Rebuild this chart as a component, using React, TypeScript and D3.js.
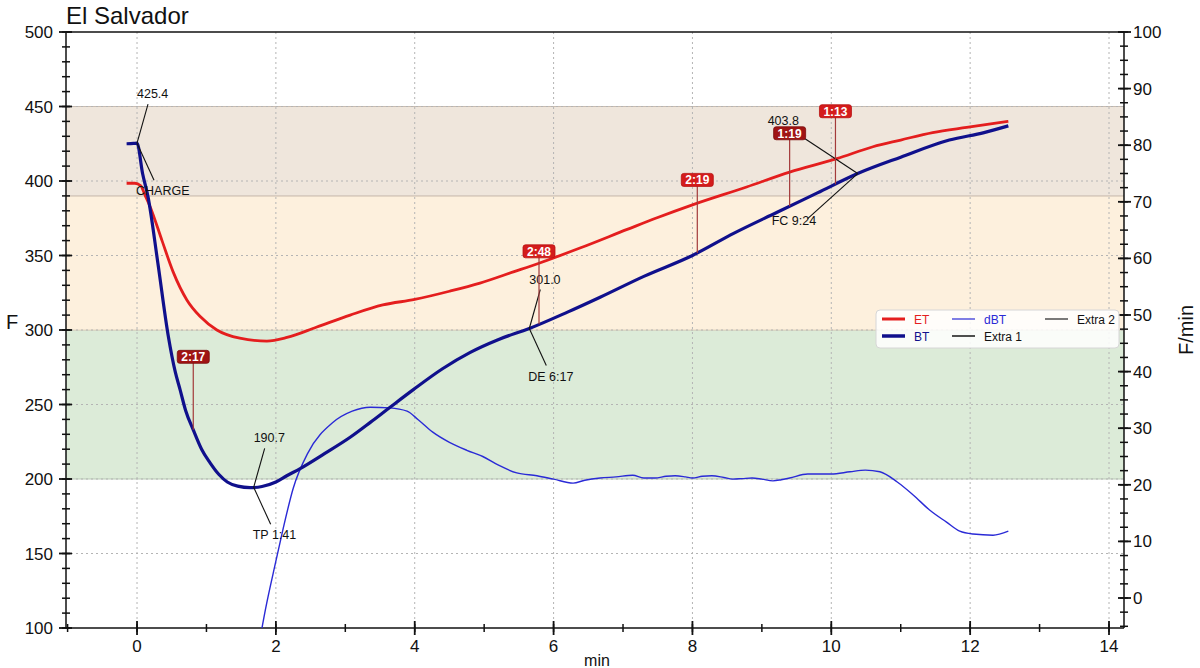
import React from "react";
import * as d3 from "d3";

const TITLE = "El Salvador";

const BT_T = [-0.15, -0.05, 0.0, 0.08, 0.16, 0.3, 0.45, 0.55, 0.62, 0.7, 0.81, 0.93, 1.05, 1.18, 1.3, 1.45, 1.63, 1.8, 2.0, 2.15, 2.35, 2.7, 3.07, 3.36, 3.64, 3.98, 4.4, 4.8, 5.2, 5.65, 6.2, 6.67, 7.3, 8.0, 8.6, 9.22, 9.8, 10.38, 11.0, 11.7, 12.2, 12.55];
const BT_V = [425, 425.2, 425.4, 405, 389, 345, 296, 272, 260, 246, 233, 220, 211, 203, 198, 195.2, 194.2, 195, 198, 202, 207, 217, 228, 238, 248, 260, 274, 285, 293.5, 301, 312, 322, 336, 350, 365, 379, 392, 405, 416, 427.5, 432.5, 437];

const ET_T = [-0.15, -0.03, 0.05, 0.12, 0.19, 0.36, 0.52, 0.72, 0.91, 1.15, 1.48, 1.87, 2.16, 2.59, 3.07, 3.54, 4.0, 4.5, 4.94, 5.42, 5.8, 6.38, 7.06, 7.5, 8.0, 8.78, 9.4, 10.08, 10.6, 11.0, 11.46, 11.95, 12.55];
const ET_V = [398.5, 398.5, 397, 390, 382.6, 360, 339, 320, 309, 300, 294.5, 292.6, 295, 302, 310, 316.8, 320.5, 326, 331.5, 339, 345, 355, 367.5, 375.5, 384, 396, 406, 415, 423, 427.5, 432.5, 436, 440];

const DBT_T = [1.76, 1.85, 2.0, 2.1, 2.25, 2.46, 2.82, 3.1, 3.36, 3.64, 3.89, 4.05, 4.26, 4.5, 4.75, 4.98, 5.2, 5.47, 5.76, 6.0, 6.28, 6.45, 6.67, 6.9, 7.14, 7.3, 7.46, 7.62, 7.75, 7.9, 8.0, 8.14, 8.28, 8.45, 8.58, 8.72, 8.86, 9.0, 9.16, 9.28, 9.4, 9.66, 10.0, 10.27, 10.49, 10.7, 10.95, 11.18, 11.42, 11.66, 11.85, 12.04, 12.33, 12.55];
const DBT_V = [-8, -2, 6.5, 12, 19.4, 25.6, 31, 33, 33.7, 33.6, 33, 31.5, 29.3, 27.5, 26.1, 25, 23.5, 22.1, 21.6, 21.0, 20.3, 20.8, 21.2, 21.4, 21.7, 21.2, 21.2, 21.5, 21.6, 21.4, 21.2, 21.5, 21.6, 21.3, 21.0, 21.1, 21.2, 21.0, 20.7, 20.9, 21.2, 21.9, 21.9, 22.3, 22.6, 22.3, 20.5, 18.2, 15.5, 13.4, 11.8, 11.3, 11.1, 11.8];

const X_TICKS = [0, 2, 4, 6, 8, 10, 12, 14];
const Y_TICKS = [100, 150, 200, 250, 300, 350, 400, 450, 500];
const YR_TICKS = [0, 10, 20, 30, 40, 50, 60, 70, 80, 90, 100];

const BAND_LOW = [200, 300, 390];
const BAND_HIGH = [300, 390, 450];

const EVENT_LABELS = ["CHARGE", "TP 1:41", "DE 6:17", "FC 9:24"];
const EVENT_TIMES = [0, 1.68, 5.65, 10.38];
const EVENT_VALUES = ["425.4", "190.7", "301.0", "403.8"];

const PHASE_LABELS = ["2:17", "2:48", "2:19", "1:19", "1:13"];
const PHASE_TIMES = [0.81, 5.79, 8.07, 9.4, 10.06];
const PHASE_SERIES = ["BT", "ET", "ET", "BT", "ET"];

const LEGEND_LABELS = ["ET", "BT", "dBT", "Extra 1", "Extra 2"];

const W = 1200;
const H = 668;
const L = 66;
const R = 1124;
const T = 32;
const B = 628;
const FONT = "'Liberation Sans', Arial, Helvetica, sans-serif";

const C_ET = "#e41e1e";
const C_BT = "#10108c";
const C_DBT = "#2a2ad6";
const BAND_FILL = ["#dcebd8", "#fdf0dd", "#efe6dc"];
const BAND_EDGE = ["#b9c9b5", "#e3d4bf", "#c9bcb0"];

function interp(ts: number[], vs: number[], t: number) {
  const i = d3.bisectLeft(ts, t);
  if (i <= 0) return vs[0];
  if (i >= ts.length) return vs[vs.length - 1];
  const f = (t - ts[i - 1]) / (ts[i] - ts[i - 1]);
  return vs[i - 1] + f * (vs[i] - vs[i - 1]);
}

export default function App() {
  const x = d3.scaleLinear().domain([-1.023, 14.216]).range([L, R]);
  const y = d3.scaleLinear().domain([100, 500]).range([B, T]);
  const yr = d3.scaleLinear().domain([-5.3, 100]).range([B, T]);

  const btPath = d3
    .line<number>()
    .x((_, i) => x(BT_T[i]))
    .y((d) => y(d))
    .curve(d3.curveMonotoneX)(BT_V);
  const etPath = d3
    .line<number>()
    .x((_, i) => x(ET_T[i]))
    .y((d) => y(d))
    .curve(d3.curveMonotoneX)(ET_V);
  const dbtPath = d3
    .line<number>()
    .x((_, i) => x(DBT_T[i]))
    .y((d) => yr(d))
    .curve(d3.curveMonotoneX)(DBT_V);

  const xMinor = d3.range(-1, 15, 1);
  const yMinor = d3.range(100, 501, 10);
  const yrMinor = d3.range(-5, 100.1, 2.5);
  const gridY = d3.range(150, 500, 50);

  const legendX = [882, 882, 952, 952, 1045];
  const legendY = [319, 336, 319, 336, 319];
  const legendColor = [C_ET, C_BT, C_DBT, "#222", "#222"];
  const legendWidth = [3, 3.5, 1.2, 1.6, 1.2];
  const legendTextColor = [C_ET, C_BT, C_DBT, "#111", "#111"];

  return (
    <svg
      width={W}
      height={H}
      viewBox={`0 0 ${W} ${H}`}
      style={{ position: "absolute", left: 0, top: 0, display: "block", background: "#fff" }}
      fontFamily={FONT}
    >
      <defs>
        <clipPath id="plotclip">
          <rect x={L} y={T} width={R - L} height={B - T} />
        </clipPath>
      </defs>

      {/* bands */}
      {BAND_LOW.map((lo, i) => (
        <g key={`band${i}`}>
          <rect x={L} y={y(BAND_HIGH[i])} width={R - L} height={y(lo) - y(BAND_HIGH[i])} fill={BAND_FILL[i]} />
          <line x1={L} x2={R} y1={y(BAND_HIGH[i])} y2={y(BAND_HIGH[i])} stroke={BAND_EDGE[i]} strokeWidth={1} />
          <line x1={L} x2={R} y1={y(lo)} y2={y(lo)} stroke={BAND_EDGE[i]} strokeWidth={1} />
        </g>
      ))}

      {/* grid */}
      {X_TICKS.map((t) => (
        <line key={`gx${t}`} x1={x(t)} x2={x(t)} y1={T} y2={B} stroke="#b4b4b4" strokeWidth={1} strokeDasharray="2,3" />
      ))}
      {gridY.map((v) => (
        <line key={`gy${v}`} x1={L} x2={R} y1={y(v)} y2={y(v)} stroke="#b4b4b4" strokeWidth={1} strokeDasharray="2,3" />
      ))}

      {/* title */}
      <text x={L} y={24} fontSize={24} fill="#111">
        {TITLE}
      </text>

      {/* frame */}
      <line x1={L} x2={R} y1={T} y2={T} stroke="#111" strokeWidth={1.5} />
      <line x1={L} x2={R} y1={B} y2={B} stroke="#111" strokeWidth={1.5} />
      <line x1={L} x2={L} y1={T} y2={B} stroke="#111" strokeWidth={1.5} />
      <line x1={R} x2={R} y1={T} y2={B} stroke="#111" strokeWidth={1.5} />

      {/* left axis */}
      {yMinor.map((v) => (
        <line key={`ylm${v}`} x1={L - 4} x2={L + 4} y1={y(v)} y2={y(v)} stroke="#111" strokeWidth={1.5} />
      ))}
      {Y_TICKS.map((v) => (
        <g key={`yl${v}`}>
          <line x1={L - 7} x2={L + 6} y1={y(v)} y2={y(v)} stroke="#111" strokeWidth={1.8} />
          <text x={L - 13} y={y(v) + 6} fontSize={17} textAnchor="end" fill="#111">
            {v}
          </text>
        </g>
      ))}
      <text x={12} y={329} fontSize={20} textAnchor="middle" fill="#111">
        F
      </text>

      {/* right axis */}
      {yrMinor.map((v) => (
        <line key={`yrm${v}`} x1={R - 4} x2={R + 4} y1={yr(v)} y2={yr(v)} stroke="#111" strokeWidth={1.5} />
      ))}
      {YR_TICKS.map((v) => (
        <g key={`yr${v}`}>
          <line x1={R - 6} x2={R + 7} y1={yr(v)} y2={yr(v)} stroke="#111" strokeWidth={1.8} />
          <text x={R + 9} y={yr(v) + 6} fontSize={17} textAnchor="start" fill="#111">
            {v}
          </text>
        </g>
      ))}
      <text
        x={1186}
        y={330}
        fontSize={20}
        textAnchor="middle"
        fill="#111"
        transform={`rotate(-90 1186 330) translate(0 7)`}
      >
        F/min
      </text>

      {/* bottom axis */}
      {xMinor.map((t) => (
        <line key={`xm${t}`} x1={x(t)} x2={x(t)} y1={B - 4} y2={B + 4} stroke="#111" strokeWidth={1.5} />
      ))}
      {X_TICKS.map((t) => (
        <g key={`xt${t}`}>
          <line x1={x(t)} x2={x(t)} y1={B - 7} y2={B + 7} stroke="#111" strokeWidth={1.8} />
          <text x={x(t)} y={B + 24} fontSize={17} textAnchor="middle" fill="#111">
            {t}
          </text>
        </g>
      ))}
      <text x={597} y={666} fontSize={16} textAnchor="middle" fill="#111">
        min
      </text>

      {/* curves */}
      <g clipPath="url(#plotclip)">
        <path d={dbtPath || ""} fill="none" stroke={C_DBT} strokeWidth={1.4} strokeLinejoin="round" />
        <path d={etPath || ""} fill="none" stroke={C_ET} strokeWidth={2.8} strokeLinejoin="round" />
        <path d={btPath || ""} fill="none" stroke={C_BT} strokeWidth={3.2} strokeLinejoin="round" />
      </g>

      {/* event annotations */}
      {EVENT_LABELS.map((lab, i) => {
        const px = x(EVENT_TIMES[i]);
        const py = y(interp(BT_T, BT_V, EVENT_TIMES[i]));
        const left = EVENT_TIMES[i] > 9;
        if (left) {
          return (
            <g key={`ev${i}`}>
              <line x1={px - 53} y1={py - 35} x2={px} y2={py} stroke="#111" strokeWidth={1.1} />
              <line x1={px} y1={py} x2={px - 50} y2={py + 45} stroke="#111" strokeWidth={1.1} />
              <text x={px - 90} y={py - 49} fontSize={12.5} fill="#111">
                {EVENT_VALUES[i]}
              </text>
              <text x={px - 86} y={py + 51} fontSize={12.5} fill="#111">
                {lab}
              </text>
            </g>
          );
        }
        return (
          <g key={`ev${i}`}>
            <line x1={px + 11} y1={py - 39} x2={px} y2={py} stroke="#111" strokeWidth={1.1} />
            <line x1={px} y1={py} x2={px + 17} y2={py + 37} stroke="#111" strokeWidth={1.1} />
            <text x={px} y={py - 45} fontSize={12.5} fill="#111">
              {EVENT_VALUES[i]}
            </text>
            <text x={px - 1} y={py + 52} fontSize={12.5} fill="#111">
              {lab}
            </text>
          </g>
        );
      })}

      {/* phase markers */}
      {PHASE_LABELS.map((lab, i) => {
        const px = x(PHASE_TIMES[i]);
        const py = y(interp(BT_T, BT_V, PHASE_TIMES[i]));
        const by = py - 73;
        const dark = PHASE_SERIES[i] === "BT";
        return (
          <g key={`ph${i}`}>
            <line x1={px} x2={px} y1={by + 6} y2={py} stroke="#a33a3a" strokeWidth={1.2} />
            <rect
              x={px - 16}
              y={by - 6.5}
              width={32}
              height={13}
              rx={2.5}
              fill={dark ? "#a01414" : "#d41c1c"}
              stroke={dark ? "#7a0c0c" : "#b81212"}
              strokeWidth={0.8}
            />
            <text x={px} y={by + 4.5} fontSize={12} fontWeight="bold" textAnchor="middle" fill="#fff">
              {lab}
            </text>
          </g>
        );
      })}

      {/* legend */}
      <rect x={876} y={310} width={243} height={38} rx={4} fill="#ffffff" fillOpacity={0.85} stroke="#d6d6d6" strokeWidth={1} />
      {LEGEND_LABELS.map((lab, i) => (
        <g key={`lg${i}`}>
          <line
            x1={legendX[i]}
            x2={legendX[i] + 23}
            y1={legendY[i]}
            y2={legendY[i]}
            stroke={legendColor[i]}
            strokeWidth={legendWidth[i]}
          />
          <text x={legendX[i] + 32} y={legendY[i] + 4.5} fontSize={12} fill={legendTextColor[i]}>
            {lab}
          </text>
        </g>
      ))}
    </svg>
  );
}
